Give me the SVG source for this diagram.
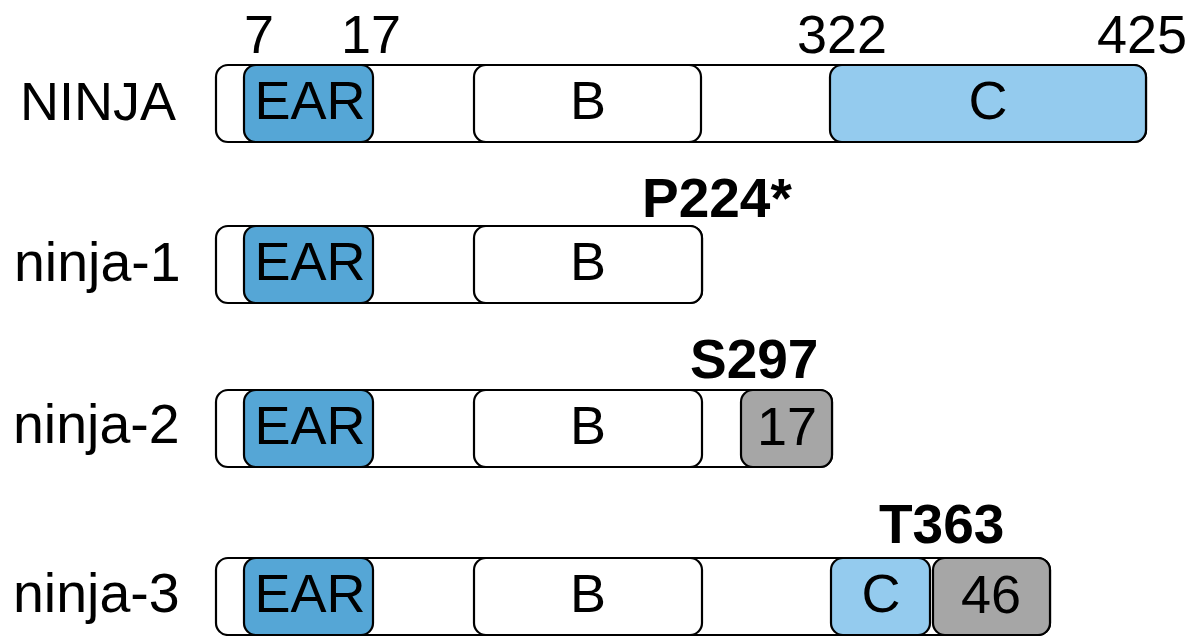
<svg xmlns="http://www.w3.org/2000/svg" width="1195" height="636" viewBox="0 0 1195 636">
  <style>
    .bar { fill: #ffffff; stroke: #000000; stroke-width: 2.2; }
    .ear { fill: #55a6d6; stroke: #000000; stroke-width: 2.2; }
    .dom { fill: #ffffff; stroke: #000000; stroke-width: 2.2; }
    .cdom { fill: #94cbee; stroke: #000000; stroke-width: 2.2; }
    .tail { fill: #a6a6a6; stroke: #000000; stroke-width: 2.2; }
    text { font-family: "Liberation Sans", Arial, Helvetica, sans-serif; font-size: 54px; fill: #000000; }
    .mid { text-anchor: middle; }
    .bold { font-weight: bold; font-size: 55px; }
    .row { font-size: 55.5px; }
  </style>

  <!-- residue positions -->
  <g id="positions">
    <text class="mid" x="259" y="53">7</text>
    <text class="mid" x="371" y="53">17</text>
    <text class="mid" x="842" y="53">322</text>
    <text class="mid" x="1142" y="53">425</text>
  </g>

  <!-- full-length protein -->
  <g id="NINJA">
    <text x="20" y="120">NINJA</text>
    <rect class="bar" x="216" y="65" width="930" height="77" rx="12"/>
    <rect class="ear" x="244" y="65" width="129" height="77" rx="12"/>
    <text class="mid" x="310" y="119">EAR</text>
    <rect class="dom" x="474" y="65" width="227" height="77" rx="12"/>
    <text class="mid" x="588" y="119">B</text>
    <rect class="cdom" x="830" y="65" width="316" height="77" rx="12"/>
    <text class="mid" x="988" y="119">C</text>
  </g>

  <!-- ninja-1 -->
  <g id="ninja-1">
    <text class="row" x="14" y="281">ninja-1</text>
    <rect class="bar" x="216" y="226" width="486" height="77" rx="12"/>
    <rect class="ear" x="244" y="226" width="129" height="77" rx="12"/>
    <text class="mid" x="310" y="280">EAR</text>
    <rect class="dom" x="474" y="226" width="228" height="77" rx="12"/>
    <text class="mid" x="588" y="280">B</text>
    <text class="bold" x="642" y="217">P224*</text>
  </g>

  <!-- ninja-2 -->
  <g id="ninja-2">
    <text class="row" x="13" y="443">ninja-2</text>
    <rect class="bar" x="216" y="390" width="616" height="77" rx="12"/>
    <rect class="ear" x="244" y="390" width="129" height="77" rx="12"/>
    <text class="mid" x="310" y="444">EAR</text>
    <rect class="dom" x="474" y="390" width="228" height="77" rx="12"/>
    <text class="mid" x="588" y="444">B</text>
    <rect class="tail" x="741" y="390" width="91" height="77" rx="12"/>
    <text class="mid" x="787" y="445">17</text>
    <text class="bold" x="690" y="378">S297</text>
  </g>

  <!-- ninja-3 -->
  <g id="ninja-3">
    <text class="row" x="13" y="612">ninja-3</text>
    <rect class="bar" x="216" y="558" width="834" height="77" rx="12"/>
    <rect class="ear" x="244" y="558" width="129" height="77" rx="12"/>
    <text class="mid" x="310" y="612">EAR</text>
    <rect class="dom" x="474" y="558" width="228" height="77" rx="12"/>
    <text class="mid" x="588" y="612">B</text>
    <rect class="cdom" x="831" y="558" width="99" height="77" rx="12"/>
    <text class="mid" x="881" y="612">C</text>
    <rect class="tail" x="933" y="558" width="117" height="77" rx="12"/>
    <text class="mid" x="991" y="613">46</text>
    <text class="bold" x="879" y="543">T363</text>
  </g>

  <g id="connectors"/>
</svg>
